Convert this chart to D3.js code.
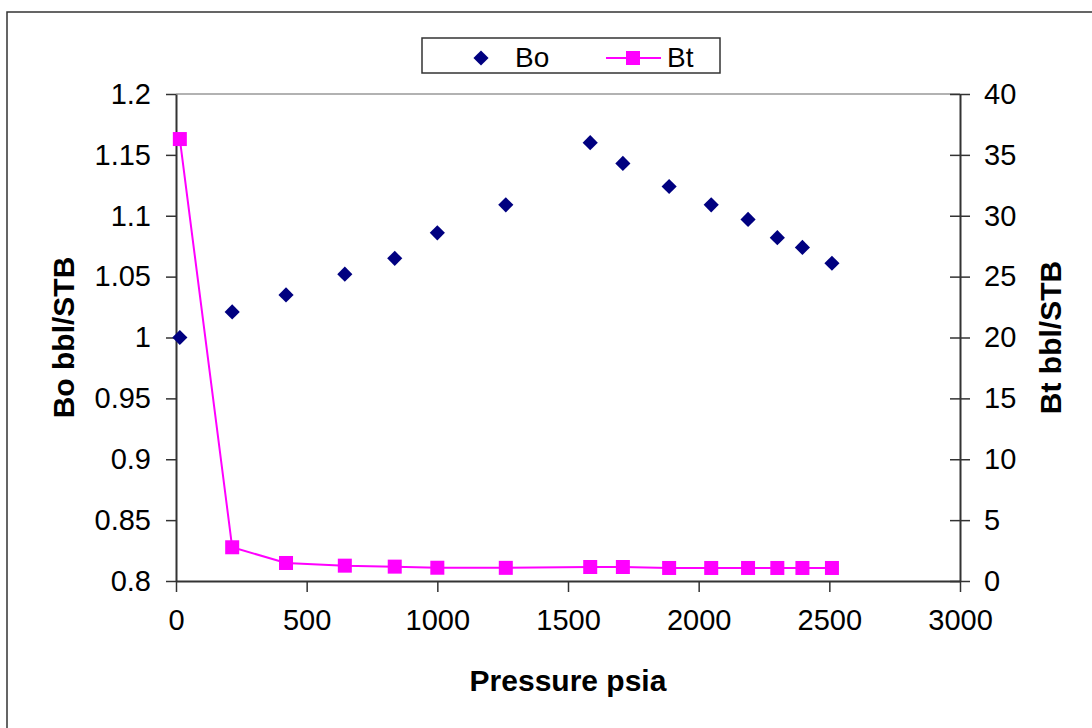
<!DOCTYPE html>
<html>
<head>
<meta charset="utf-8">
<script src="https://cdn.jsdelivr.net/npm/d3@7"></script>
<style>
  body { margin: 0; background: #fff; }
  text { font-family: "Liberation Sans", Arial, sans-serif; fill: #000; }
</style>
</head>
<body>
<svg id="chart" width="1092" height="728"></svg>
<script>
    // values
    const pressure = [14.7, 215, 421, 646, 837, 1000, 1262, 1585, 1710, 1887, 2048, 2189, 2301, 2397, 2510];
    const bo = [1.000, 1.021, 1.035, 1.052, 1.065, 1.086, 1.109, 1.160, 1.143, 1.124, 1.109, 1.097, 1.082, 1.074, 1.061];
    const bt = [36.3, 2.77, 1.48, 1.26, 1.18, 1.09, 1.08, 1.15, 1.15, 1.07, 1.07, 1.07, 1.07, 1.07, 1.07];
    const xTicks = [0, 500, 1000, 1500, 2000, 2500, 3000];
    const boTicks = [0.8, 0.85, 0.9, 0.95, 1, 1.05, 1.1, 1.15, 1.2];
    const btTicks = [0, 5, 10, 15, 20, 25, 30, 35, 40];

    const svg = d3.select("#chart");
    const plot = { left: 176, right: 960, top: 94, bottom: 581 };

    const x = d3.scaleLinear().domain([0, 3000]).range([plot.left, plot.right]);
    const yL = d3.scaleLinear().domain([0.8, 1.2]).range([plot.bottom, plot.top]);
    const yR = d3.scaleLinear().domain([0, 40]).range([plot.bottom, plot.top]);

    // outer chart border (right and bottom run off the picture)
    svg.append("rect")
        .attr("x", 7).attr("y", 12)
        .attr("width", 1200).attr("height", 800)
        .attr("fill", "none").attr("stroke", "#333").attr("stroke-width", 1.5);

    // plot area top border
    svg.append("line")
        .attr("x1", plot.left).attr("x2", plot.right)
        .attr("y1", plot.top).attr("y2", plot.top)
        .attr("stroke", "#999").attr("stroke-width", 1.5);

    const axisColor = "#333";
    const fmt = d3.format("");

    // bottom axis
    const gx = svg.append("g").attr("transform", "translate(0," + plot.bottom + ")")
        .call(d3.axisBottom(x).tickValues(xTicks).tickFormat(fmt).tickSize(11).tickPadding(10).tickSizeOuter(0));
    gx.select(".domain").attr("stroke", axisColor).attr("stroke-width", 2);
    gx.selectAll(".tick line").attr("stroke", axisColor).attr("stroke-width", 1.5);
    gx.selectAll(".tick text").attr("font-size", 29).attr("font-family", "Liberation Sans, Arial, sans-serif")
        .attr("fill", "#000").attr("dy", "0.95em");

    // left axis
    const gl = svg.append("g").attr("transform", "translate(" + plot.left + ",0)")
        .call(d3.axisLeft(yL).tickValues(boTicks).tickFormat(fmt).tickSize(10).tickPadding(15).tickSizeOuter(0));
    gl.select(".domain").attr("stroke", axisColor).attr("stroke-width", 2);
    gl.selectAll(".tick line").attr("stroke", axisColor).attr("stroke-width", 1.5);
    gl.selectAll(".tick text").attr("font-size", 29).attr("font-family", "Liberation Sans, Arial, sans-serif").attr("fill", "#000");

    // right axis, ticks cross the line
    const gr = svg.append("g").attr("transform", "translate(" + plot.right + ",0)")
        .call(d3.axisRight(yR).tickValues(btTicks).tickFormat(fmt).tickSize(10).tickPadding(14).tickSizeOuter(0));
    gr.select(".domain").attr("stroke", axisColor).attr("stroke-width", 2);
    gr.selectAll(".tick line").attr("x1", -10).attr("stroke", axisColor).attr("stroke-width", 1.5);
    gr.selectAll(".tick text").attr("font-size", 29).attr("font-family", "Liberation Sans, Arial, sans-serif").attr("fill", "#000");

    // axis titles
    svg.append("text")
        .attr("x", (plot.left + plot.right) / 2).attr("y", 691)
        .attr("text-anchor", "middle").attr("font-size", 30).attr("font-weight", "bold")
        .text("Pressure psia");
    svg.append("text")
        .attr("transform", "translate(74," + (plot.top + plot.bottom) / 2 + ") rotate(-90)")
        .attr("text-anchor", "middle").attr("font-size", 30).attr("font-weight", "bold")
        .text("Bo bbl/STB");
    svg.append("text")
        .attr("transform", "translate(1061," + (plot.top + plot.bottom) / 2 + ") rotate(-90)")
        .attr("text-anchor", "middle").attr("font-size", 30).attr("font-weight", "bold")
        .text("Bt bbl/STB");

    const pts = pressure.map((p, i) => ({ p: p, bo: bo[i], bt: bt[i] }));

    // Bt line + squares
    const line = d3.line().x(d => x(d.p)).y(d => yR(d.bt));
    svg.append("path").datum(pts)
        .attr("d", line).attr("fill", "none").attr("stroke", "#ff00ff").attr("stroke-width", 2);
    const sq = 14;
    svg.selectAll(".bt").data(pts).join("rect")
        .attr("class", "bt")
        .attr("x", d => x(d.p) - sq / 2).attr("y", d => yR(d.bt) - sq / 2)
        .attr("width", sq).attr("height", sq)
        .attr("fill", "#ff00ff");

    // Bo diamonds
    const diamond = d3.symbol().type(d3.symbolSquare).size(115);
    svg.selectAll(".bo").data(pts).join("path")
        .attr("class", "bo")
        .attr("d", diamond)
        .attr("transform", d => "translate(" + x(d.p) + "," + yL(d.bo) + ") rotate(45)")
        .attr("fill", "#000080");

    // legend
    const lg = svg.append("g");
    lg.append("rect")
        .attr("x", 422).attr("y", 38).attr("width", 298).attr("height", 35)
        .attr("fill", "#fff").attr("stroke", "#333").attr("stroke-width", 1.5);
    lg.append("path").attr("d", diamond)
        .attr("transform", "translate(481,58) rotate(45)").attr("fill", "#000080");
    lg.append("text").attr("x", 515).attr("y", 67).attr("font-size", 28).text("Bo");
    lg.append("line").attr("x1", 606).attr("x2", 661).attr("y1", 58).attr("y2", 58)
        .attr("stroke", "#ff00ff").attr("stroke-width", 2);
    lg.append("rect").attr("x", 633 - sq / 2).attr("y", 58 - sq / 2)
        .attr("width", sq).attr("height", sq).attr("fill", "#ff00ff");
    lg.append("text").attr("x", 667).attr("y", 67).attr("font-size", 28).text("Bt");
</script>
</body>
</html>
